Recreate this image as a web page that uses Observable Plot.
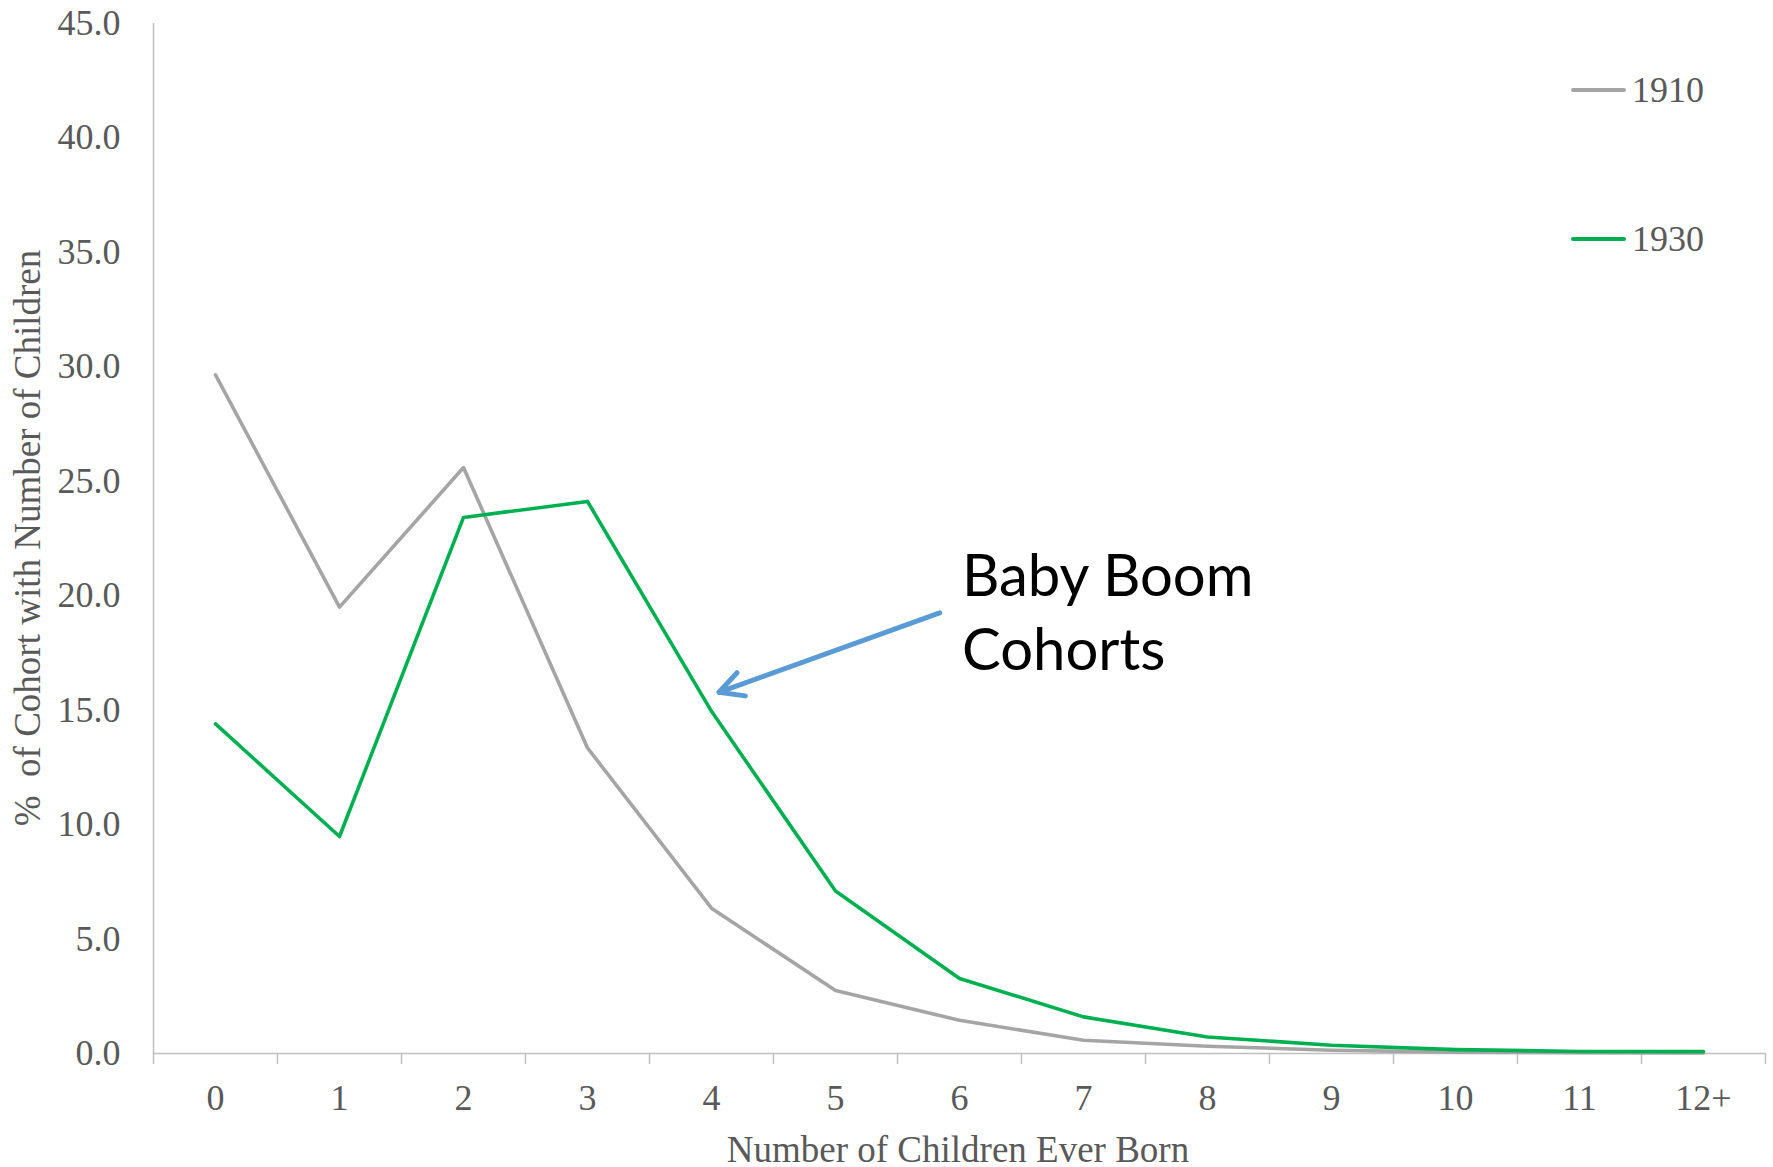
<!DOCTYPE html>
<html>
<head>
<meta charset="utf-8">
<script src="https://cdn.jsdelivr.net/npm/d3@7"></script>
<script src="https://cdn.jsdelivr.net/npm/@observablehq/plot@0.6"></script>
<style>
  html, body { margin: 0; padding: 0; background: #fff; }
  #wrap { position: relative; width: 1773px; height: 1167px; }
  #legend { position: absolute; left: 1571px; top: 0; font-family: "Liberation Serif", serif; font-size: 36px; color: #595959; }
  .li { position: absolute; left: 0; display: flex; align-items: center; white-space: nowrap; }
  .sw { width: 55px; height: 4px; border-radius: 2px; margin-right: 6px; }
</style>
</head>
<body>
<div id="wrap">
  <div id="chart"></div>
  <div id="legend"></div>
</div>
<script>
// Categories (number of children ever born)
const categories = ["0","1","2","3","4","5","6","7","8","9","10","11","12+"];
// % of cohort with number of children
const cohort1910 = [29.65, 19.5, 25.6, 13.35, 6.35, 2.75, 1.45, 0.58, 0.32, 0.14, 0.06, 0.03, 0.02];
const cohort1930 = [14.4, 9.48, 23.42, 24.12, 14.95, 7.1, 3.28, 1.6, 0.72, 0.36, 0.17, 0.09, 0.08];
const seriesNames = ["1910", "1930"];
const seriesColors = ["#A5A5A5", "#00B050"];
const yTicks = [0, 5, 10, 15, 20, 25, 30, 35, 40, 45];

// Annotation (data coordinates)
const annoText = ["Baby Boom", "Cohorts"];
const annoTextX = [6.02, 6.02];
const annoTextY = [20.0, 16.75];
const arrowFrom = {x: 5.84, y: 19.25};
const arrowTo = {x: 4.06, y: 15.78};

const rows = [];
[cohort1910, cohort1930].forEach((vals, s) => {
  vals.forEach((v, i) => rows.push({series: seriesNames[s], idx: i, value: v}));
});
const idx = categories.map((c, i) => i);
const bounds = d3.range(-0.5, categories.length, 1);

const serif = "Liberation Serif, Times New Roman, serif";

const chart = Plot.plot({
  width: 1773,
  height: 1167,
  marginLeft: 153,
  marginRight: 8,
  marginTop: 23,
  marginBottom: 114,
  style: {fontFamily: serif, background: "#fff", overflow: "visible"},
  x: {domain: [-0.5, categories.length - 0.5]},
  y: {domain: [0, 45]},
  color: {domain: seriesNames, range: seriesColors},
  marks: [
    Plot.ruleX([-0.5], {stroke: "#BFBFBF", strokeWidth: 1.5}),
    Plot.ruleY([0], {stroke: "#BFBFBF", strokeWidth: 1.5}),
    Plot.axisY({ticks: yTicks, tickSize: 0, tickPadding: 33, tickFormat: d => d.toFixed(1),
      fontSize: 36, fill: "#595959", label: null}),
    Plot.axisX({ticks: bounds, tickFormat: () => "", tickSize: 11, stroke: "#BFBFBF", strokeWidth: 1.5, label: null}),
    Plot.axisX({ticks: idx, tickSize: 0, tickPadding: 31, tickFormat: i => categories[i],
      fontSize: 36, fill: "#595959", label: null}),
    Plot.line(rows, {x: "idx", y: "value", z: "series", stroke: "series", strokeWidth: 3.6, strokeLinejoin: "round"}),
    Plot.arrow([{x1: arrowFrom.x, y1: arrowFrom.y, x2: arrowTo.x, y2: arrowTo.y}],
      {x1: "x1", y1: "y1", x2: "x2", y2: "y2", stroke: "#5B9BD5", strokeWidth: 5, headLength: 8, headAngle: 55, bend: 0}),
    Plot.text(annoText, {x: (d, i) => annoTextX[i], y: (d, i) => annoTextY[i], text: d => d,
      textAnchor: "start", lineAnchor: "bottom", fontSize: 58, fill: "#000", fontFamily: "Lato, Carlito, sans-serif"})
  ]
});

// Axis titles
const svg = d3.select(chart);
svg.append("text")
  .attr("x", 958).attr("y", 1162)
  .attr("text-anchor", "middle")
  .attr("font-family", serif).attr("font-size", 37).attr("fill", "#595959")
  .text("Number of Children Ever Born");
svg.append("text")
  .attr("transform", "translate(40,538) rotate(-90)")
  .attr("text-anchor", "middle")
  .attr("font-family", serif).attr("font-size", 37).attr("fill", "#595959")
  .text("%\u00A0 of Cohort with Number of Children");

document.getElementById("chart").appendChild(chart);

// Legend
const legend = document.getElementById("legend");
const legendTops = [90, 239];
seriesNames.forEach((name, i) => {
  const item = document.createElement("div");
  item.className = "li";
  item.style.top = (legendTops[i] - 21) + "px";
  item.innerHTML = `<span class="sw" style="background:${seriesColors[i]}"></span><span>${name}</span>`;
  legend.appendChild(item);
});
</script>
</body>
</html>
